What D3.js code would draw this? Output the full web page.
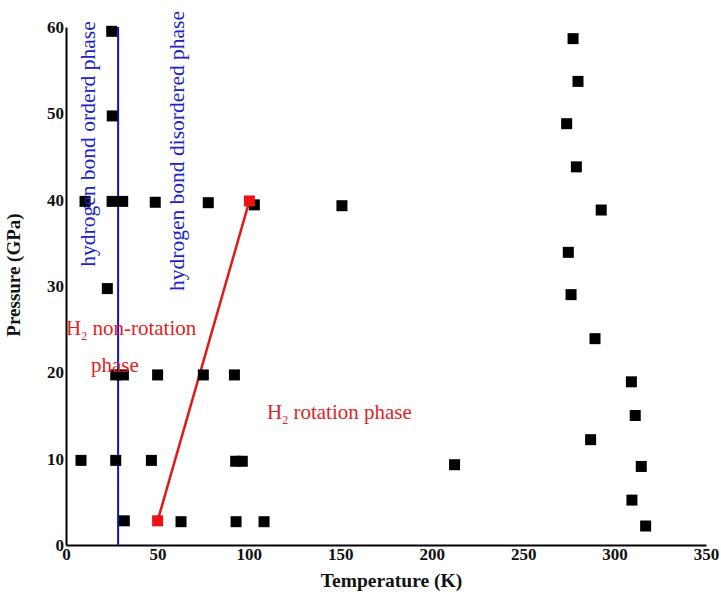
<!DOCTYPE html>
<meta charset="utf-8">
<script src="https://d3js.org/d3.v7.min.js"></script>
<head>
<style>
  body { margin: 0; background: #fff; }
  text { font-family: "Liberation Serif", "Times New Roman", serif; }
</style>
</head>
<body>
<div id="my_dataviz"></div>
<script>
// black sample points (temperature K, pressure GPa)
var temps = [25, 25.3,
             10.4, 25.2, 31, 48.8, 77.8, 103, 150.9,
             22.6,
             27.2, 31.4, 50.1, 75.1, 92.1,
             8.2, 27.2, 46.7, 92.8, 96.4, 212.5,
             31.9, 62.9, 93, 108.3,
             277.3, 280, 273.8, 279.1, 292.7, 274.7, 276.2, 289.3,
             309.2, 311.3, 286.9, 314.6, 309.5, 317];
var pressures = [59.5, 49.7,
             39.8, 39.8, 39.8, 39.7, 39.65, 39.4, 39.3,
             29.7,
             19.7, 19.7, 19.7, 19.7, 19.7,
             9.8, 9.8, 9.8, 9.7, 9.7, 9.3,
             2.8, 2.7, 2.7, 2.7,
             58.65, 53.7, 48.8, 43.8, 38.8, 33.9, 29, 23.9,
             18.9, 15, 12.2, 9.1, 5.2, 2.2];

// red points joined by the red boundary line
var redTemps = [50.1, 100.3];
var redPressures = [2.8, 39.85];

// blue boundary (hydrogen bond order/disorder)
var blueTemp = 28.5;

var xTicks = [0, 50, 100, 150, 200, 250, 300, 350];
var yTicks = [0, 10, 20, 30, 40, 50, 60];

var margin = {top: 27, right: 15, bottom: 47, left: 66},
    width = 721 - margin.left - margin.right,
    height = 592 - margin.top - margin.bottom;

var svg = d3.select("#my_dataviz")
  .append("svg")
    .attr("width", 721)
    .attr("height", 592)
  .append("g")
    .attr("transform", "translate(" + margin.left + "," + margin.top + ")");

var x = d3.scaleLinear().domain([0, 350]).range([0, 640]);
var y = d3.scaleLinear().domain([0, 60]).range([height - 0, 0]);

// axes
var xAxis = svg.append("g")
  .attr("transform", "translate(0," + height + ")")
  .call(d3.axisBottom(x).tickValues(xTicks).tickSize(0).tickPadding(3));
var yAxis = svg.append("g")
  .call(d3.axisLeft(y).tickValues(yTicks).tickSize(0).tickPadding(2));

[xAxis, yAxis].forEach(function (a) {
  a.select(".domain").attr("stroke", "#000").attr("stroke-width", 2);
  a.selectAll("text")
    .style("font-family", "Liberation Serif")
    .style("font-weight", "bold")
    .style("font-size", "17px")
    .attr("fill", "#111");
});

// axis titles
svg.append("text")
  .attr("x", x(178))
  .attr("y", height + 42)
  .attr("text-anchor", "middle")
  .style("font-size", "19.5px")
  .style("font-weight", "bold")
  .attr("fill", "#111")
  .text("Temperature (K)");

svg.append("text")
  .attr("transform", "rotate(-90)")
  .attr("x", -(275 - margin.top))
  .attr("y", -60 + 14)
  .attr("text-anchor", "middle")
  .style("font-size", "19px")
  .style("font-weight", "bold")
  .attr("fill", "#111")
  .text("Pressure (GPa)");

// blue phase boundary
svg.append("line")
  .attr("x1", x(blueTemp)).attr("x2", x(blueTemp))
  .attr("y1", y(0)).attr("y2", y(60))
  .attr("stroke", "#1010d0")
  .attr("stroke-width", 2);

// red phase boundary
svg.append("line")
  .attr("x1", x(redTemps[0])).attr("y1", y(redPressures[0]))
  .attr("x2", x(redTemps[1])).attr("y2", y(redPressures[1]))
  .attr("stroke", "#e01818")
  .attr("stroke-width", 2.5);

// black squares
var s = 11;
svg.append("g")
  .selectAll("rect")
  .data(d3.range(temps.length))
  .enter()
  .append("rect")
    .attr("x", function (i) { return x(temps[i]) - s / 2; })
    .attr("y", function (i) { return y(pressures[i]) - s / 2; })
    .attr("width", s)
    .attr("height", s)
    .attr("fill", "#000");

// red squares
svg.append("g")
  .selectAll("rect")
  .data(d3.range(redTemps.length))
  .enter()
  .append("rect")
    .attr("x", function (i) { return x(redTemps[i]) - s / 2; })
    .attr("y", function (i) { return y(redPressures[i]) - s / 2; })
    .attr("width", s)
    .attr("height", s)
    .attr("fill", "#ee1111");

// rotated blue phase labels
function vlabel(px, pyCenter, txt) {
  svg.append("text")
    .attr("transform", "translate(" + px + "," + pyCenter + ") rotate(-90)")
    .attr("text-anchor", "middle")
    .style("font-size", "21.5px")
    .attr("fill", "#2020c8")
    .text(txt);
}
vlabel(95 - margin.left, 144 - margin.top, "hydrogen bond orderd phase");
vlabel(184 - margin.left, 151 - margin.top, "hydrogen bond disordered phase");

// red phase labels
function h2label(px, py, rest) {
  var t = svg.append("text")
    .attr("x", px - margin.left)
    .attr("y", py - margin.top)
    .style("font-size", "21px")
    .attr("fill", "#e02424");
  t.append("tspan").text("H");
  t.append("tspan").attr("dy", 5).style("font-size", "12px").text("2");
  t.append("tspan").attr("dy", -5).text(" " + rest);
  return t;
}
h2label(66, 335, "non-rotation");
svg.append("text")
  .attr("x", 91 - margin.left)
  .attr("y", 372 - margin.top)
  .style("font-size", "21px")
  .attr("fill", "#e02424")
  .text("phase");
h2label(267, 419, "rotation phase");
</script>
</body>
